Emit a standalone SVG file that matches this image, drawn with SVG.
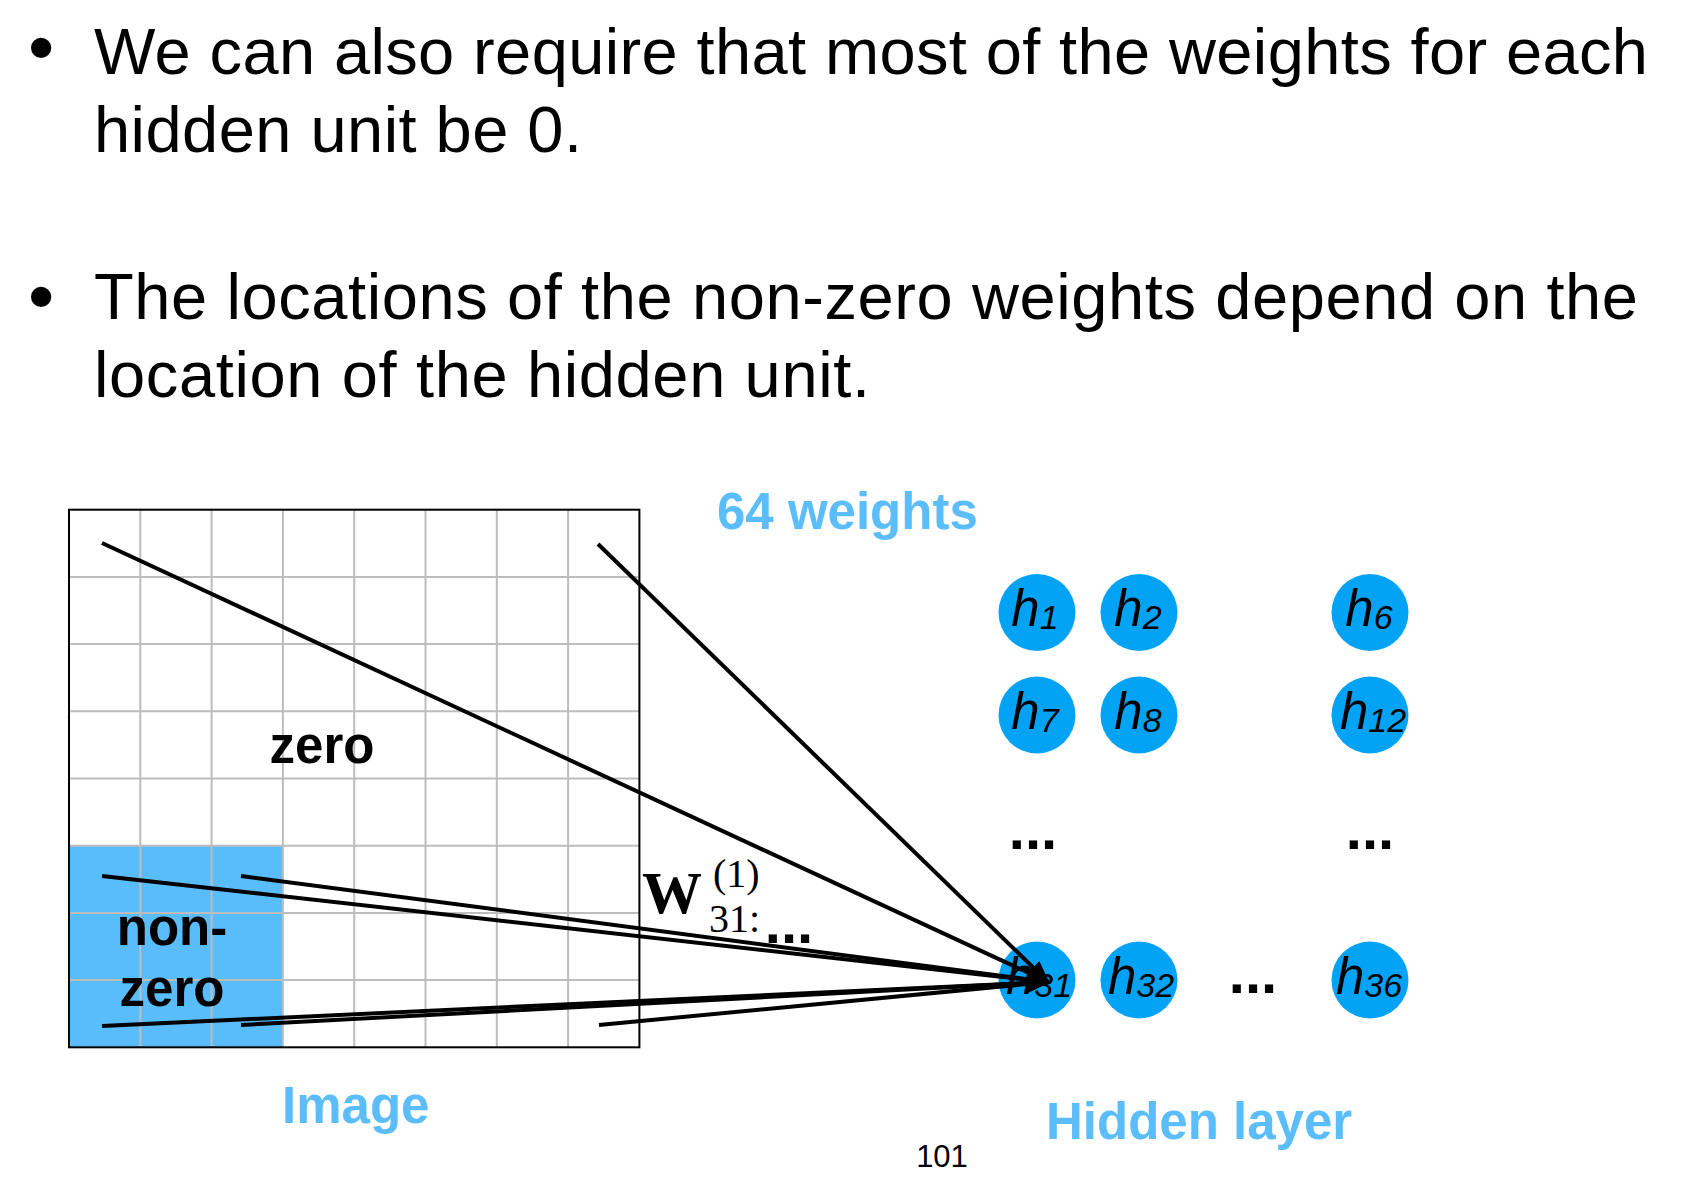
<svg xmlns="http://www.w3.org/2000/svg" width="1706" height="1179" viewBox="0 0 1706 1179">
  <style>
    .body { font-family: "Liberation Sans", Arial, sans-serif; font-size: 65px; fill: #000; }
    .bul { font-family: "Liberation Sans", Arial, sans-serif; font-size: 75px; fill: #000; }
    .pg { font-family: "Liberation Sans", Arial, sans-serif; font-size: 31px; fill: #000; text-anchor: middle; }
    .blue { font-family: "Liberation Sans", Arial, sans-serif; font-size: 51px; font-weight: bold; fill: #5BBDFA; }
    .lbl { font-family: "Liberation Sans", Arial, sans-serif; font-size: 51px; font-weight: bold; fill: #000; text-anchor: middle; }
    .dots { font-family: "Liberation Sans", Arial, sans-serif; font-size: 58px; font-weight: bold; fill: #000; text-anchor: middle; }
    .node { fill: #02A3F4; }
    .hl { font-family: "Liberation Sans", Arial, sans-serif; font-style: italic; font-size: 51px; fill: #000; text-anchor: middle; }
    .sub { font-size: 34px; }
    .grid { stroke: #BDBDBD; stroke-width: 2; }
    .conn { stroke: #000; stroke-width: 4; fill: none; marker-end: url(#arr); }
    .serif { font-family: "Liberation Serif", "Times New Roman", serif; fill: #000; }
  </style>
  <defs>
    <marker id="arr" markerUnits="userSpaceOnUse" markerWidth="26" markerHeight="20" refX="21" refY="9" orient="auto">
      <path d="M0,0 L24,9 L0,18 Z" fill="#000"/>
    </marker>
  </defs>
  <rect width="1706" height="1179" fill="#fff"/>

  <g id="bullets">
    <text class="bul" x="28" y="73">•</text>
    <text class="body" x="94" y="74" textLength="1554" lengthAdjust="spacing">We can also require that most of the weights for each</text>
    <text class="body" x="94" y="152" textLength="488" lengthAdjust="spacing">hidden unit be 0.</text>
    <text class="bul" x="28" y="322">•</text>
    <text class="body" x="94" y="318.5" textLength="1544" lengthAdjust="spacing">The locations of the non-zero weights depend on the</text>
    <text class="body" x="94" y="397" textLength="776" lengthAdjust="spacing">location of the hidden unit.</text>
  </g>

  <g id="image-grid">
    <rect x="69" y="845.7" width="214.2" height="201.6" fill="#5ABDFB"/>
    <g class="grid">
      <line x1="140.3" y1="509.7" x2="140.3" y2="1047.3"/>
      <line x1="211.6" y1="509.7" x2="211.6" y2="1047.3"/>
      <line x1="282.9" y1="509.7" x2="282.9" y2="1047.3"/>
      <line x1="354.2" y1="509.7" x2="354.2" y2="1047.3"/>
      <line x1="425.5" y1="509.7" x2="425.5" y2="1047.3"/>
      <line x1="496.8" y1="509.7" x2="496.8" y2="1047.3"/>
      <line x1="568.1" y1="509.7" x2="568.1" y2="1047.3"/>
      <line x1="69" y1="576.9" x2="639.4" y2="576.9"/>
      <line x1="69" y1="644.1" x2="639.4" y2="644.1"/>
      <line x1="69" y1="711.3" x2="639.4" y2="711.3"/>
      <line x1="69" y1="778.5" x2="639.4" y2="778.5"/>
      <line x1="69" y1="845.7" x2="639.4" y2="845.7"/>
      <line x1="69" y1="912.9" x2="639.4" y2="912.9"/>
      <line x1="69" y1="980.1" x2="639.4" y2="980.1"/>
    </g>
    <rect x="69" y="509.7" width="570.4" height="537.6" fill="none" stroke="#000" stroke-width="2"/>
    <text class="lbl" x="322" y="763">zero</text>
    <text class="lbl" x="172" y="945">non-</text>
    <text class="lbl" x="172" y="1006">zero</text>
  </g>

  <g id="labels">
    <text class="blue" x="717" y="529">64 weights</text>
    <text class="blue" x="282" y="1123">Image</text>
    <text class="blue" x="1046" y="1139">Hidden layer</text>
    <text class="pg" x="942" y="1167">101</text>
  </g>

  <g id="h1"><circle class="node" cx="1037" cy="612.5" r="38.5"/><text class="hl" x="1035" y="626">h<tspan class="sub" dy="3">1</tspan></text></g>
  <g id="h2"><circle class="node" cx="1139" cy="612.5" r="38.5"/><text class="hl" x="1138" y="626">h<tspan class="sub" dy="3">2</tspan></text></g>
  <g id="h6"><circle class="node" cx="1370" cy="612.5" r="38.5"/><text class="hl" x="1369" y="626">h<tspan class="sub" dy="3">6</tspan></text></g>
  <g id="h7"><circle class="node" cx="1037" cy="715" r="38.5"/><text class="hl" x="1035" y="729">h<tspan class="sub" dy="3">7</tspan></text></g>
  <g id="h8"><circle class="node" cx="1139" cy="715" r="38.5"/><text class="hl" x="1138" y="729">h<tspan class="sub" dy="3">8</tspan></text></g>
  <g id="h12"><circle class="node" cx="1370" cy="715" r="38.5"/><text class="hl" x="1373" y="729">h<tspan class="sub" dy="3">12</tspan></text></g>
  <g id="h31"><circle class="node" cx="1037" cy="980" r="38.5"/><text class="hl" x="1039" y="994">h<tspan class="sub" dy="3">31</tspan></text></g>
  <g id="h32"><circle class="node" cx="1139" cy="980" r="38.5"/><text class="hl" x="1141" y="994">h<tspan class="sub" dy="3">32</tspan></text></g>
  <g id="h36"><circle class="node" cx="1370" cy="980" r="38.5"/><text class="hl" x="1369" y="994">h<tspan class="sub" dy="3">36</tspan></text></g>

  <g id="ellipses">
    <text class="dots" x="1033" y="849">...</text>
    <text class="dots" x="1370" y="849">...</text>
    <text class="dots" x="1253" y="993">...</text>
    <text class="dots" x="789" y="943">...</text>
  </g>

  <g id="weight-label">
    <text class="serif" x="642" y="913" font-size="60" font-weight="bold">W</text>
    <text class="serif" x="713" y="887" font-size="40">(1)</text>
    <text class="serif" x="709" y="932" font-size="40">31:</text>
  </g>

  <g id="connectors">
    <line class="conn" x1="102" y1="543" x2="1048" y2="982"/>
    <line class="conn" x1="598" y1="544" x2="1048" y2="982"/>
    <line class="conn" x1="102" y1="876" x2="1048" y2="982"/>
    <line class="conn" x1="241" y1="876" x2="1048" y2="982"/>
    <line class="conn" x1="102" y1="1026" x2="1048" y2="982"/>
    <line class="conn" x1="241" y1="1025" x2="1048" y2="982"/>
    <line class="conn" x1="599" y1="1025" x2="1048" y2="982"/>
  </g>
</svg>
